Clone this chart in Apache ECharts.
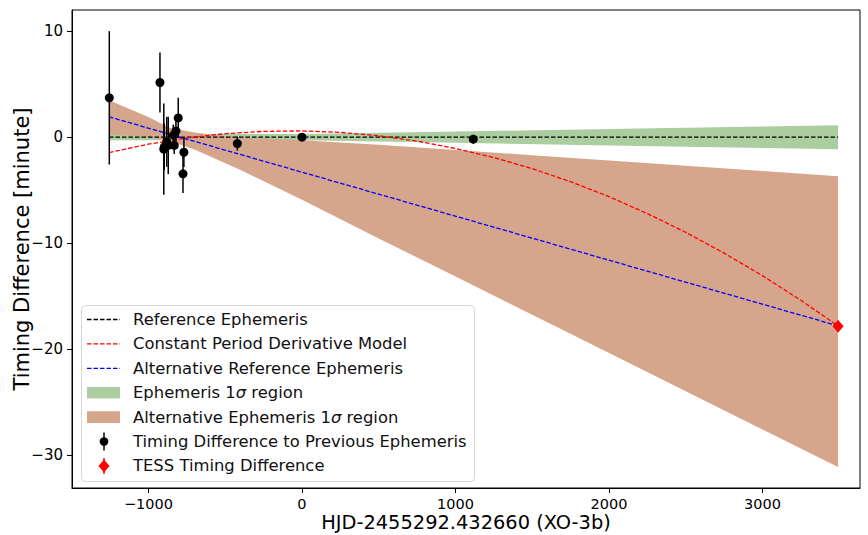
<!DOCTYPE html>
<html><head><meta charset="utf-8">
<script src="https://cdn.jsdelivr.net/npm/echarts@6/dist/echarts.min.js"></script>
<style>html,body{margin:0;padding:0;background:#fff}#c{width:868px;height:535px}</style>
</head><body><div id="c"></div>
<script>
// ---- data ----
const xTicks = [-1000, 0, 1000, 2000, 3000];
const yTicks = [-30, -20, -10, 0, 10];

const refX = [-1257, 3492];
const refY = [0, 0];

const cpdX = [-1257,-1000,-750,-500,-250,0,250,500,750,1000,1250,1500,1750,2000,2250,2500,2750,3000,3250,3492];
const cpdY = [-1.45,-0.66,-0.07,0.33,0.55,0.59,0.45,0.13,-0.37,-1.06,-1.92,-2.97,-4.20,-5.61,-7.21,-8.98,-10.94,-13.07,-15.39,-17.81];

const altX = [-1257, 3492];
const altY = [1.92, -17.80];

const ephBandX  = [-1257, -600, 0, 1100, 2300, 3492];
const ephBandUp = [0.3, 0.3, 0.3, 0.56, 0.85, 1.13];
const ephBandLo = [-0.3, -0.3, -0.3, -0.56, -0.85, -1.13];

const altBandX  = [-1257,-1000,-864,-700,-400,0,500,1000,1500,2000,2500,3000,3492];
const altBandUp = [3.49,1.9,0.9,0.45,-0.05,-0.3,-0.72,-1.2,-1.7,-2.2,-2.7,-3.2,-3.68];
const altBandLo = [0.28,0.0,-0.35,-1.17,-3.1,-5.9,-9.55,-13.15,-16.76,-20.37,-23.97,-27.58,-31.13];

const obsX   = [-1255, -925, -900, -897, -871, -881, -832, -838, -821, -806, -769, -775, -421, 0, 1116];
const obsY   = [3.71, 5.16, -1.13, -0.92, -0.78, -0.44, -0.78, 0.19, 0.59, 1.82, -1.42, -3.46, -0.60, 0.00, -0.19];
const obsErr = [6.29, 2.83, 4.3, 2.2, 2.7, 2.36, 0.8, 1.0, 1.2, 1.9, 1.4, 1.8, 0.66, 0.2, 0.42];

const tessX = [3492];
const tessY = [-17.83];
const tessErr = [0.3];

const legendLabels = [
  'Reference Ephemeris',
  'Constant Period Derivative Model',
  'Alternative Reference Ephemeris',
  'Ephemeris 1σ region',
  'Alternative Ephemeris 1σ region',
  'Timing Difference to Previous Ephemeris',
  'TESS Timing Difference'
];

// ---- styles ----
const FONT = 'DejaVu Sans';
const GREEN = 'rgb(171,205,160)';
const ORANGE = 'rgb(213,165,140)';
const DASH = [4.5, 2];

const zip = (xs, ys) => xs.map((x, i) => [x, ys[i]]);

function band(name, xs, up, lo, color, z) {
  return {
    type: 'custom', name, z, silent: true,
    data: xs.map((x, i) => [x, up[i], lo[i]]),
    encode: { x: 0, y: [1, 2] },
    renderItem: (params, api) => {
      if (params.dataIndex !== 0) return null;
      const pts = [];
      for (let i = 0; i < xs.length; i++) pts.push(api.coord([xs[i], up[i]]));
      for (let i = xs.length - 1; i >= 0; i--) pts.push(api.coord([xs[i], lo[i]]));
      return { type: 'polygon', shape: { points: pts }, style: { fill: color } };
    }
  };
}
function dashed(name, xs, ys, color, z) {
  return {
    type: 'line', name, z, data: zip(xs, ys), showSymbol: false, symbol: 'none',
    silent: true, animation: false,
    lineStyle: { color, width: 1.3, type: DASH }
  };
}
function errbars(name, xs, ys, es, color, z) {
  return {
    type: 'custom', name, z, silent: true,
    data: xs.map((x, i) => [x, ys[i], es[i]]),
    encode: { x: 0, y: 1 },
    renderItem: (params, api) => {
      const x = api.value(0), y = api.value(1), e = api.value(2);
      const p1 = api.coord([x, y + e]), p2 = api.coord([x, y - e]);
      return { type: 'line', shape: { x1: p1[0], y1: p1[1], x2: p2[0], y2: p2[1] },
               style: { stroke: color, lineWidth: 1.5 } };
    }
  };
}

const chart = echarts.init(document.getElementById('c'), null, { renderer: 'svg' });

// legend drawn as graphics
const LX = 81, LY = 305, LW = 393, LH = 176;
const rowY = i => 319.5 + i * 24.4;
const legendEls = [{
  type: 'rect', shape: { x: LX + 0.5, y: LY + 0.5, width: LW, height: LH, r: 4 },
  style: { fill: 'rgba(255,255,255,0.8)', stroke: '#d6d6d6', lineWidth: 1 }, z: 100
}];
const handleColors = ['#000', 'red', 'blue'];
for (let i = 0; i < 3; i++) {
  legendEls.push({ type: 'line', z: 101,
    shape: { x1: 87, y1: rowY(i), x2: 120, y2: rowY(i) },
    style: { stroke: handleColors[i], lineWidth: 1.3, lineDash: DASH } });
}
[GREEN, ORANGE].forEach((c, k) => {
  legendEls.push({ type: 'rect', z: 101,
    shape: { x: 87, y: rowY(3 + k) - 5.8, width: 33, height: 11.7 }, style: { fill: c } });
});
legendEls.push({ type: 'line', z: 101, shape: { x1: 104, y1: rowY(5) - 9, x2: 104, y2: rowY(5) + 9 },
  style: { stroke: '#000', lineWidth: 1.5 } });
legendEls.push({ type: 'circle', z: 102, shape: { cx: 104, cy: rowY(5), r: 4.3 }, style: { fill: '#000' } });
legendEls.push({ type: 'line', z: 101, shape: { x1: 104, y1: rowY(6) - 8, x2: 104, y2: rowY(6) + 8 },
  style: { stroke: 'red', lineWidth: 1.5 } });
legendEls.push({ type: 'polygon', z: 102,
  shape: { points: [[104, rowY(6) - 6.5], [109.5, rowY(6)], [104, rowY(6) + 6.5], [98.5, rowY(6)]] },
  style: { fill: 'red' } });
legendLabels.forEach((t, i) => {
  const parts = t.split('σ');
  const text = parts.length > 1 ? '{a|' + parts[0] + '}{s|σ}{a|' + parts[1] + '}' : '{a|' + t + '}';
  legendEls.push({ type: 'text', z: 103, x: 133, y: rowY(i),
    style: { text, fill: '#111', verticalAlign: 'middle', align: 'left',
      rich: { a: { fontFamily: FONT, fontSize: 16.4, fill: '#111' },
              s: { fontFamily: FONT, fontSize: 16.4, fontStyle: 'italic', fill: '#111' } } } });
});

const tickFmt = v => (v < 0 ? '\u2212' + Math.abs(v) : '' + v);

chart.setOption({
  animation: false,
  backgroundColor: '#fff',
  grid: { left: 72, right: 8, top: 10, bottom: 47, show: true, borderColor: '#000', borderWidth: 1,
          backgroundColor: 'transparent', outerBoundsMode: 'none', containLabel: false },
  xAxis: {
    type: 'value', min: -1498, max: 3635,
    name: 'HJD-2455292.432660 (XO-3b)', nameLocation: 'middle', nameGap: 25, nameMoveOverlap: false,
    nameTextStyle: { fontFamily: FONT, fontSize: 19.4, color: '#000' },
    axisLine: { show: true, onZero: false, lineStyle: { color: '#000', width: 1 } },
    axisTick: { show: true, customValues: xTicks, length: 5, lineStyle: { color: '#000' } },
    axisLabel: { customValues: xTicks, margin: 8, fontFamily: FONT, fontSize: 14.5, color: '#000', formatter: tickFmt },
    splitLine: { show: false }
  },
  yAxis: {
    type: 'value', min: -33.1, max: 12,
    name: 'Timing Difference [minute]', nameLocation: 'middle', nameGap: 40, nameRotate: 90, nameMoveOverlap: false,
    nameTextStyle: { fontFamily: FONT, fontSize: 21, color: '#000' },
    axisLine: { show: true, onZero: false, lineStyle: { color: '#000', width: 1 } },
    axisTick: { show: true, customValues: yTicks, length: 5, lineStyle: { color: '#000' } },
    axisLabel: { customValues: yTicks, margin: 9, fontFamily: FONT, fontSize: 15, color: '#000', formatter: tickFmt },
    splitLine: { show: false }
  },
  graphic: { elements: legendEls },
  series: [
    band('Ephemeris 1σ region', ephBandX, ephBandUp, ephBandLo, GREEN, 1),
    band('Alternative Ephemeris 1σ region', altBandX, altBandUp, altBandLo, ORANGE, 2),
    dashed('Reference Ephemeris', refX, refY, '#000', 3),
    dashed('Constant Period Derivative Model', cpdX, cpdY, 'red', 4),
    dashed('Alternative Reference Ephemeris', altX, altY, 'blue', 5),
    errbars('obs err', obsX, obsY, obsErr, '#000', 6),
    { type: 'scatter', name: 'Timing Difference to Previous Ephemeris', z: 7, silent: true,
      data: zip(obsX, obsY), symbol: 'circle', symbolSize: 9, itemStyle: { color: '#000', opacity: 1 } },
    errbars('tess err', tessX, tessY, tessErr, 'red', 8),
    { type: 'scatter', name: 'TESS Timing Difference', z: 9, silent: true,
      data: zip(tessX, tessY), symbol: 'diamond', symbolSize: [11, 13], itemStyle: { color: 'red', opacity: 1 } }
  ]
});
</script>
</body></html>
